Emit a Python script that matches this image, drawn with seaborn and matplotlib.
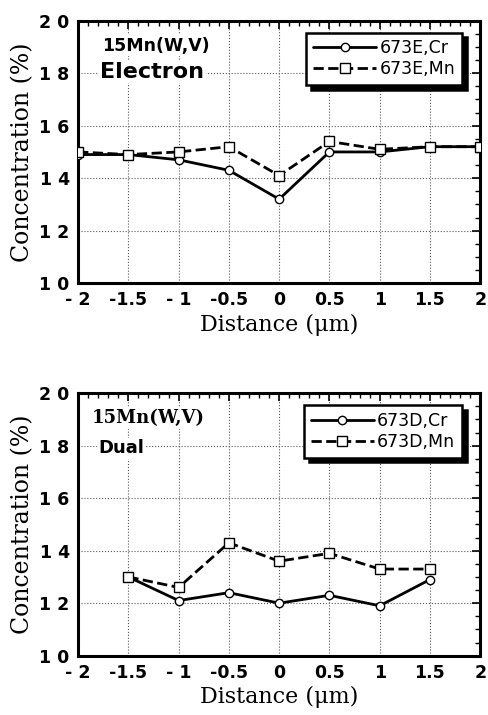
import matplotlib
matplotlib.use("Agg")
import matplotlib.pyplot as plt
from matplotlib.ticker import FixedLocator, FixedFormatter, MultipleLocator
import seaborn as sns

# values
distance = [-2, -1.5, -1, -0.5, 0, 0.5, 1, 1.5, 2]
electron_cr = [14.9, 14.9, 14.7, 14.3, 13.2, 15.0, 15.0, 15.2, 15.2]
electron_mn = [15.0, 14.9, 15.0, 15.2, 14.1, 15.4, 15.1, 15.2, 15.2]

dual_distance = [-1.5, -1, -0.5, 0, 0.5, 1, 1.5]
dual_cr = [13.0, 12.1, 12.4, 12.0, 12.3, 11.9, 12.9]
dual_mn = [13.0, 12.6, 14.3, 13.6, 13.9, 13.3, 13.3]

x_ticks = [-2, -1.5, -1, -0.5, 0, 0.5, 1, 1.5, 2]
x_labels = ['- 2', '-1.5', '- 1', '-0.5', '0', '0.5', '1', '1.5', '2']
y_ticks = [10, 12, 14, 16, 18, 20]
y_labels = ['1 0', '1 2', '1 4', '1 6', '1 8', '2 0']

sns.set_style("white")
plt.rcParams['font.family'] = ['DejaVu Sans']
plt.rcParams['text.color'] = 'black'
plt.rcParams['axes.labelcolor'] = 'black'
plt.rcParams['xtick.color'] = 'black'
plt.rcParams['ytick.color'] = 'black'

fig = plt.figure(figsize=(4.88, 7.15), dpi=100)
ax1 = fig.add_axes([0.160, 0.604, 0.824, 0.367])
ax2 = fig.add_axes([0.160, 0.083, 0.824, 0.367])


def draw_panel(ax, x, cr, mn, cr_name, mn_name, alloy, mode, alloy_font):
    sns.lineplot(x=x, y=cr, ax=ax, color='black', lw=2, marker='o', ms=6,
                 mfc='white', mec='black', mew=1, label=cr_name, zorder=3)
    sns.lineplot(x=x, y=mn, ax=ax, color='black', lw=2, ls='--', marker='s', ms=7,
                 mfc='white', mec='black', mew=1, label=mn_name, zorder=3)
    ax.set_xlim(-2, 2)
    ax.set_ylim(10, 20)
    ax.xaxis.set_major_locator(FixedLocator(x_ticks))
    ax.xaxis.set_major_formatter(FixedFormatter(x_labels))
    ax.yaxis.set_major_locator(FixedLocator(y_ticks))
    ax.yaxis.set_major_formatter(FixedFormatter(y_labels))
    ax.xaxis.set_minor_locator(MultipleLocator(0.1))
    ax.yaxis.set_minor_locator(MultipleLocator(0.5))
    ax.tick_params(which='both', direction='in', top=True, right=True, color='black')
    ax.tick_params(which='major', length=6, width=1.2, labelsize=12.5, pad=6)
    ax.tick_params(which='minor', length=3.5, width=1)
    for lab in ax.get_xticklabels() + ax.get_yticklabels():
        lab.set_fontweight('bold')
    ax.grid(True, which='major', ls=':', color='0.35', lw=0.8)
    for sp in ax.spines.values():
        sp.set_linewidth(2.2)
        sp.set_color('black')
    ax.set_xlabel('Distance (\u03bcm)', family='DejaVu Serif', fontsize=16, labelpad=3)
    ax.set_ylabel('Concentration (%)', family='DejaVu Serif', fontsize=17, labelpad=4)
    leg = ax.legend(loc='upper right', bbox_to_anchor=(0.955, 0.955), fontsize=12.5,
                    frameon=True, fancybox=False, handlelength=3.6, handletextpad=0.2,
                    borderpad=0.4, labelspacing=0.15, borderaxespad=0,
                    shadow={'color': 'black', 'alpha': 1, 'ox': 3.5, 'oy': -3.5})
    leg.get_frame().set_edgecolor('black')
    leg.get_frame().set_linewidth(1.8)
    leg.get_frame().set_alpha(1)
    box = dict(facecolor='white', edgecolor='none', pad=1)
    ax.text(alloy[0], alloy[1], '15Mn(W,V)', transform=ax.transAxes, fontsize=alloy_font[1],
            fontweight='bold', family=alloy_font[0], va='center', ha='left', bbox=box)
    ax.text(mode[0], mode[1], mode[2], transform=ax.transAxes, fontsize=mode[3],
            fontweight='bold', va='center', ha='left', bbox=box)


draw_panel(ax1, distance, electron_cr, electron_mn, '673E,Cr', '673E,Mn',
           (0.06, 0.905), (0.055, 0.805, 'Electron', 16), ('DejaVu Sans', 12.5))
draw_panel(ax2, dual_distance, dual_cr, dual_mn, '673D,Cr', '673D,Mn',
           (0.035, 0.905), (0.05, 0.79, 'Dual', 13), ('DejaVu Serif', 13))

fig.savefig('out.png', dpi=100)
